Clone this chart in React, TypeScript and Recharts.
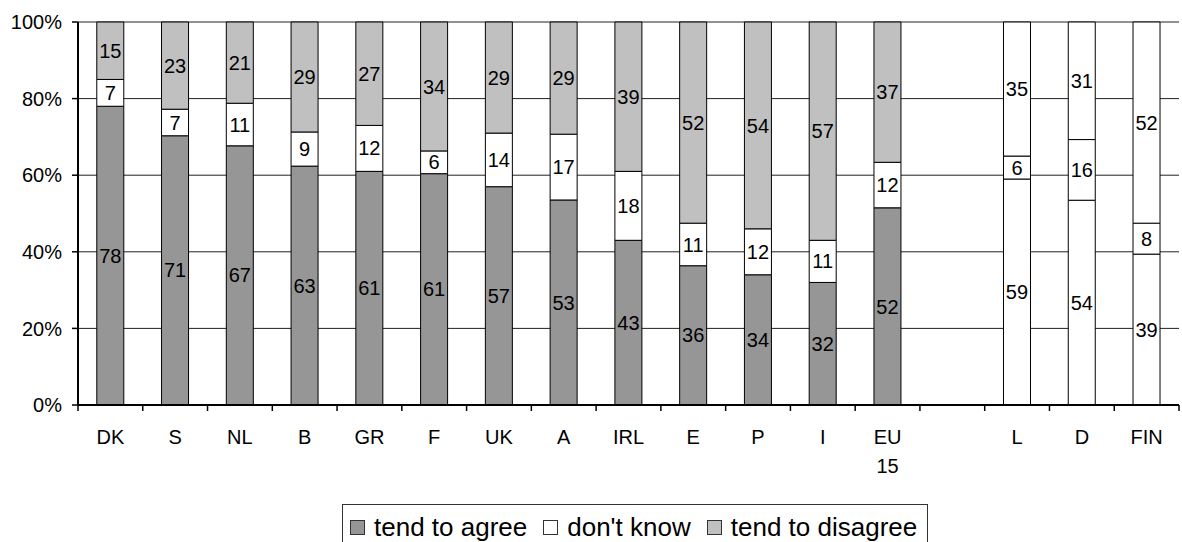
import React from 'react';
import { BarChart, Bar, XAxis, YAxis, CartesianGrid, LabelList, Cell } from 'recharts';

const FONT = '"Liberation Sans", Arial, sans-serif';

const categories = ['DK', 'S', 'NL', 'B', 'GR', 'F', 'UK', 'A', 'IRL', 'E', 'P', 'I', 'EU 15', '', 'L', 'D', 'FIN'];
const tendToAgree = [78, 71, 67, 63, 61, 61, 57, 53, 43, 36, 34, 32, 52, null, 59, 54, 39];
const dontKnow = [7, 7, 11, 9, 12, 6, 14, 17, 18, 11, 12, 11, 12, null, 6, 16, 8];
const tendToDisagree = [15, 23, 21, 29, 27, 34, 29, 29, 39, 52, 54, 57, 37, null, 35, 31, 52];
const outlinedCategories = ['L', 'D', 'FIN'];
const yTicks = [0, 0.2, 0.4, 0.6, 0.8, 1];

const series = [
  { key: 'agree', name: 'tend to agree', color: '#969696' },
  { key: 'dk', name: "don't know", color: '#ffffff' },
  { key: 'disagree', name: 'tend to disagree', color: '#c0c0c0' },
];

const data = categories.map((name, i) => ({
  name,
  agree: tendToAgree[i],
  dk: dontKnow[i],
  disagree: tendToDisagree[i],
}));

const TICK_MARGIN = 25;
const TICK_LEN = 6;

const CategoryTick = (props: any) => {
  const { x, y, payload, width, visibleTicksCount } = props;
  const lines = String(payload.value).split(' ');
  const half = payload && payload.offset ? payload.offset : width / visibleTicksCount / 2;
  const axisY = y - TICK_MARGIN;
  const isLast = payload.index === visibleTicksCount - 1;
  return (
    <g>
      <line x1={x - half} x2={x - half} y1={axisY} y2={axisY + TICK_LEN} stroke="#000" strokeWidth={1.5} />
      {isLast && (
        <line x1={x + half} x2={x + half} y1={axisY} y2={axisY + TICK_LEN} stroke="#000" strokeWidth={1.5} />
      )}
      <text x={x} y={y} textAnchor="middle" fontSize={20} fontFamily={FONT} fill="#000">
        {lines.map((l, i) => (
          <tspan key={i} x={x} dy={i === 0 ? '0.71em' : 29}>
            {l}
          </tspan>
        ))}
      </text>
    </g>
  );
};

export default function App() {
  return (
    <div style={{ position: 'absolute', left: 0, top: 0, width: 1182, height: 542, background: '#fff', overflow: 'hidden' }}>
      <BarChart
        width={1182}
        height={542}
        data={data}
        stackOffset="expand"
        margin={{ top: 22, right: 3, bottom: 77, left: 0 }}
        barCategoryGap="29%"
      >
        <CartesianGrid vertical={false} stroke="#222" strokeWidth={1} />
        <XAxis
          dataKey="name"
          tick={<CategoryTick />}
          tickLine={false}
          tickSize={0}
          tickMargin={TICK_MARGIN}
          interval={0}
          axisLine={{ stroke: '#000', strokeWidth: 2 }}
          height={60}
        />
        <YAxis
          width={78}
          domain={[0, 1]}
          ticks={yTicks}
          tickFormatter={(v: number) => `${Math.round(v * 100)}%`}
          tick={{ fontSize: 20, fontFamily: FONT, fill: '#000' }}
          tickSize={6}
          tickMargin={10}
          tickLine={{ stroke: '#000', strokeWidth: 1.5 }}
          axisLine={{ stroke: '#000', strokeWidth: 2 }}
        />
        <YAxis
          yAxisId="rightBorder"
          orientation="right"
          width={0}
          tick={false}
          tickLine={false}
          axisLine={{ stroke: '#333', strokeWidth: 1.5 }}
        />
        {series.map((s) => (
          <Bar
            key={s.key}
            dataKey={s.key}
            name={s.name}
            stackId="a"
            fill={s.color}
            stroke="#000"
            strokeWidth={1}
            isAnimationActive={false}
          >
            {data.map((d, i) => (
              <Cell key={i} fill={outlinedCategories.includes(d.name) ? '#ffffff' : s.color} />
            ))}
            <LabelList
              dataKey={s.key}
              position="center"
              fill="#000"
              fontSize={20}
              fontFamily={FONT}
              formatter={(v: any) => (v == null ? '' : v)}
            />
          </Bar>
        ))}
      </BarChart>
      <div
        style={{
          position: 'absolute',
          left: 342,
          top: 504,
          height: 46,
          boxSizing: 'border-box',
          border: '1px solid #333',
          display: 'flex',
          alignItems: 'center',
          paddingLeft: 7,
          paddingRight: 10,
          fontFamily: FONT,
          fontSize: 26,
          color: '#000',
          whiteSpace: 'nowrap',
        }}
      >
        {series.map((s, i) => (
          <div
            key={s.key}
            style={{ display: 'flex', alignItems: 'center', marginRight: i === series.length - 1 ? 0 : 16 }}
          >
            <span
              style={{
                display: 'inline-block',
                width: 15,
                height: 15,
                boxSizing: 'border-box',
                border: '1px solid #333',
                background: s.color,
                marginRight: 9,
              }}
            />
            <span>{s.name}</span>
          </div>
        ))}
      </div>
    </div>
  );
}
